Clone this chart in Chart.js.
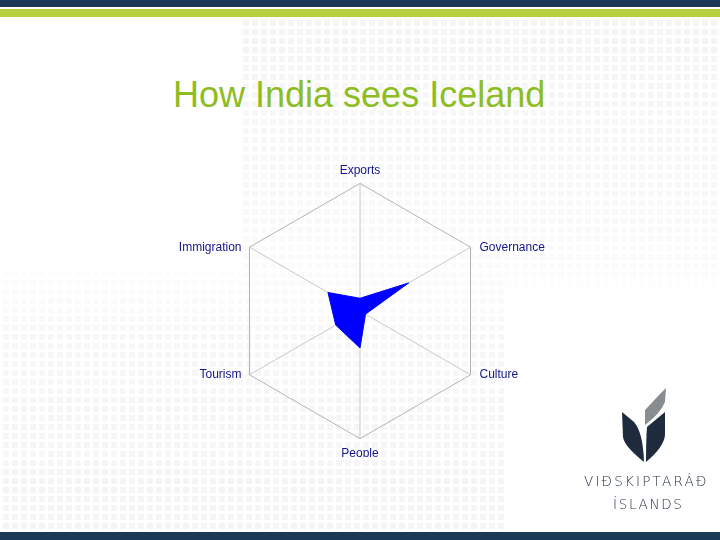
<!DOCTYPE html>
<html>
<head>
<meta charset="utf-8">
<script src="https://cdn.jsdelivr.net/npm/chart.js@4/dist/chart.umd.min.js"></script>
<style>
  body { margin: 0; width: 720px; height: 540px; overflow: hidden; background: #fff; position: relative; font-family: "Liberation Sans", Arial, sans-serif; }
  .bar { position: absolute; left: 0; width: 720px; }
  .dots { position: absolute;
    background-image: linear-gradient(90deg, #fff 3px, transparent 3px), linear-gradient(#fff 3px, #f0f0f0 3px);
    background-size: 9px 9px; }
  #dots1 { left: 240px; top: 17px; width: 480px; height: 290px;
    -webkit-mask-image: linear-gradient(to bottom, rgba(0,0,0,0.7), rgba(0,0,0,0.35) 80%, transparent);
    mask-image: linear-gradient(to bottom, rgba(0,0,0,0.7), rgba(0,0,0,0.35) 80%, transparent); }
  #dots2 { left: 0; top: 250px; width: 505px; height: 281px;
    -webkit-mask-image: linear-gradient(to bottom, transparent, rgba(0,0,0,0.5) 30%, rgba(0,0,0,0.7));
    mask-image: linear-gradient(to bottom, transparent, rgba(0,0,0,0.5) 30%, rgba(0,0,0,0.7)); }
  #title { position: absolute; left: 173px; top: 74px; font-size: 36px; color: #8dbd22; white-space: nowrap; }
  #wrap { position: absolute; left: 160px; top: 165px; width: 400px; height: 292px; }
  .logo { position: absolute; color: #1e2b3c; font-size: 13.5px; letter-spacing: 2.2px; white-space: nowrap; font-family: "DejaVu Sans", sans-serif; font-weight: 300; }
</style>
</head>
<body>
<div class="bar" style="top:0;height:7px;background:#1b3a56"></div>
<div class="bar" style="top:9px;height:8px;background:#b6cf3c"></div>
<div class="dots" id="dots1"></div>
<div class="dots" id="dots2"></div>
<div class="bar" style="top:532px;height:8px;background:#1b3a56"></div>
<div id="title">How India sees Iceland</div>
<div id="wrap"><canvas id="radar"></canvas></div>
<svg style="position:absolute;left:0;top:0" width="720" height="540">
  <path d="M622,412 L634,422 Q643,432 644,462 Q624,446 623,437 Z" fill="#1e2b3c"/>
  <path d="M665,412 L647,427 Q646,440 646,462 Q664,447 665,435 Z" fill="#1e2b3c"/>
  <path d="M645,425 L645,410 L660,394 L666,388 L665,402 Q660,414 645,425 Z" fill="#8a8d90"/>
</svg>
<div class="logo" style="left:584px;top:473px;">VIÐSKIPTARÁÐ</div>
<div class="logo" style="left:613px;top:496px;letter-spacing:1.7px;">ÍSLANDS</div>
<script>
const labels = ['Exports', 'Governance', 'Culture', 'People', 'Tourism', 'Immigration'];
const values = [10, 44, 5, 29, 22, 29];
const scaleMax = 100;

// draws the axis names beside the tips, vertically centred like the original
const sideLabels = {
    id: 'sideLabels',
    afterDraw(chart) {
        const scale = chart.scales.r;
        const ctx = chart.ctx;
        ctx.save();
        ctx.font = '12px "Liberation Sans", Arial';
        ctx.fillStyle = '#14168c';
        labels.forEach((name, i) => {
            const p = scale.getPointPosition(i, scale.drawingArea);
            let x = p.x, y = p.y;
            if (Math.abs(p.x - scale.xCenter) < 1) {
                ctx.textAlign = 'center';
                y += p.y < scale.yCenter ? -13 : 15;
            } else if (p.x > scale.xCenter) {
                ctx.textAlign = 'left';
                x += 9;
            } else {
                ctx.textAlign = 'right';
                x -= 8;
            }
            ctx.textBaseline = 'middle';
            ctx.fillText(name, x, y);
        });
        ctx.restore();
    }
};

new Chart(document.getElementById('radar'), {
    type: 'radar',
    data: {
        labels: labels,
        datasets: [{
            data: values,
            backgroundColor: '#0000ff',
            borderColor: '#0000ff',
            borderWidth: 1,
            pointRadius: 0,
            fill: true
        }]
    },
    options: {
        responsive: true,
        maintainAspectRatio: false,
        animation: false,
        plugins: { legend: { display: false }, tooltip: { enabled: false } },
        scales: {
            r: {
                min: 0,
                max: scaleMax,
                ticks: { display: false, stepSize: scaleMax },
                grid: { color: '#b4b4b4', lineWidth: 1 },
                angleLines: { color: '#c8c8c8', lineWidth: 1 },
                pointLabels: {
                    color: 'rgba(0,0,0,0)',
                    font: { family: 'Liberation Sans, Arial', size: 12 },
                    padding: 4
                }
            }
        }
    },
    plugins: [sideLabels]
});
</script>
</body>
</html>
